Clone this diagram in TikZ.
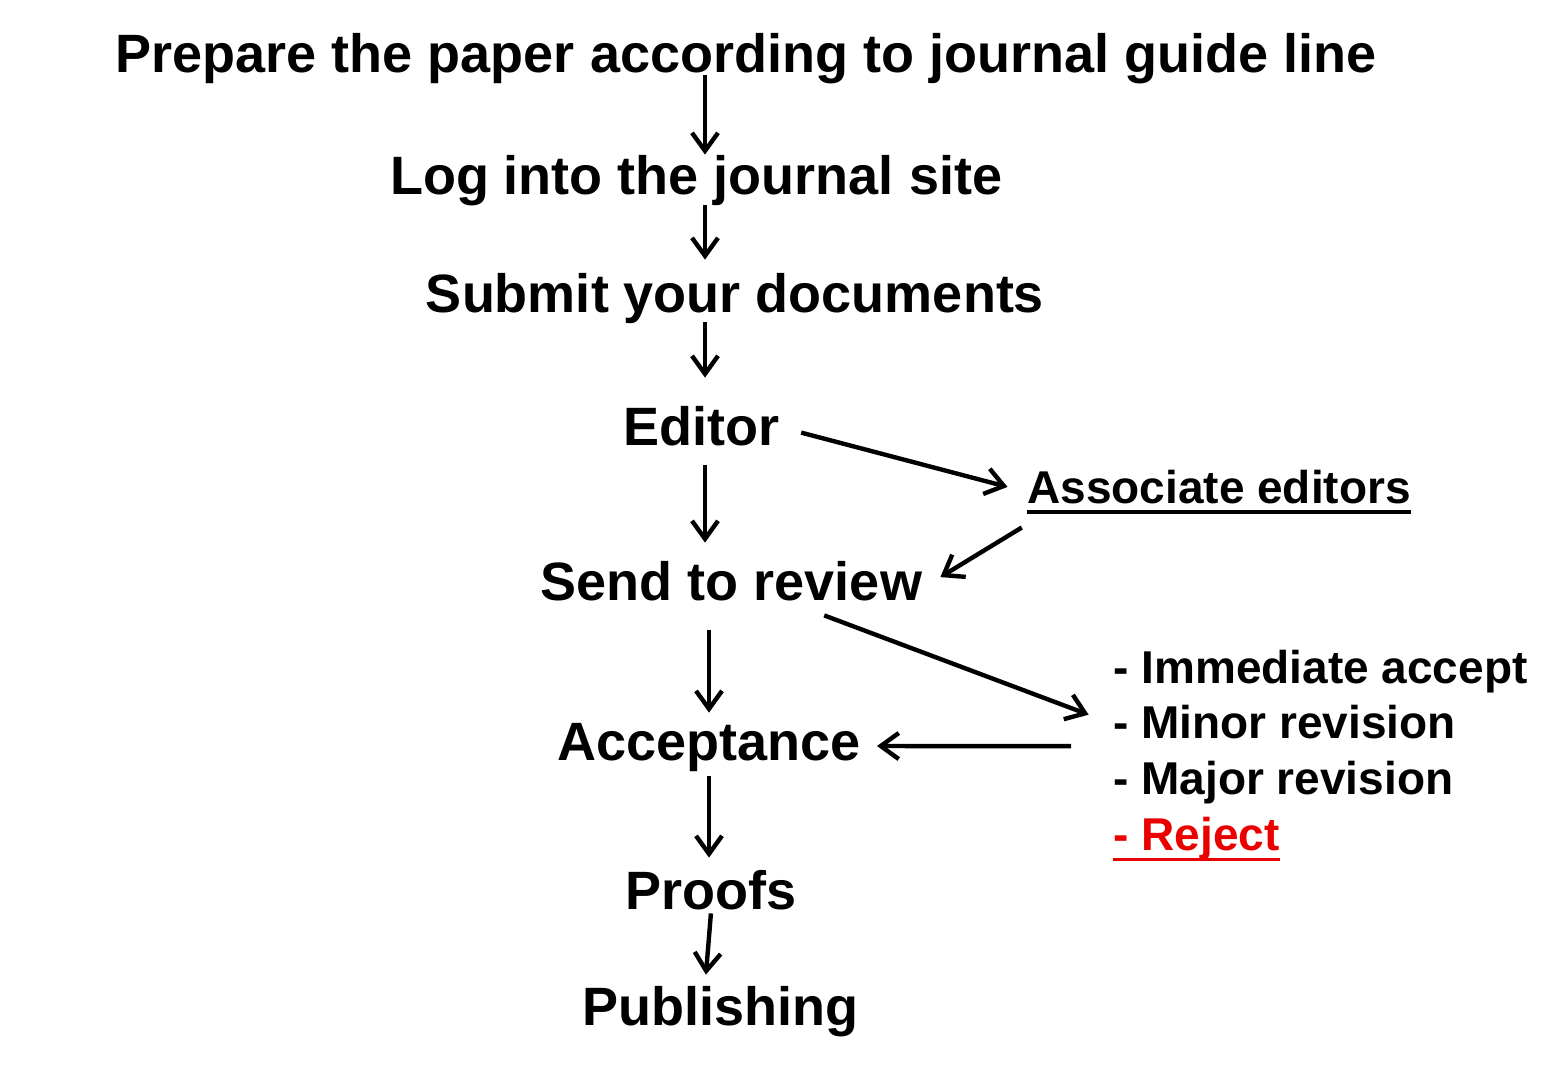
\documentclass[tikz,border=0pt]{standalone}
\usepackage{fontspec}
\setmainfont{Liberation Sans}
\usepackage{xcolor}
\usepackage{tikz}
\usetikzlibrary{arrows.meta, positioning}
\definecolor{rejectred}{RGB}{235,0,0}
% thick underline below a text
\newsavebox{\ulbox}
\newcommand{\ultext}[1]{\sbox{\ulbox}{#1}\rlap{\rule[-5.4pt]{\wd\ulbox}{1.8pt}}\usebox{\ulbox}}
\tikzset{
    % Main steps of the submission flow
    stepnode/.style={inner sep=0pt, anchor=base, font=\fontsize{27}{32}\selectfont\bfseries,
                     text height=19.5pt, text depth=1.5pt},
    % Side texts (editors, review outcomes)
    optionnode/.style={inner sep=0pt, font=\fontsize{23}{27.5}\selectfont\bfseries,
                       text height=16.5pt, text depth=1.5pt},
    % Arrow style
    flowarrow/.style={-{Straight Barb[length=9pt, width=13pt]}, line width=2.2pt},
}

\begin{document}
\begin{tikzpicture}[x=0.5pt, y=-0.5pt]
\useasboundingbox (0,0) rectangle (1556,1071);

% ============================================================
% Main flow
% ============================================================
\node[stepnode] (prep) at (746,72) {Prepare the paper according to journal guide line};
\node[stepnode] (log) at (696,194) {Log into the journal site};
\node[stepnode] (submit) at (735,312) {Submit your documents};
\node[stepnode] (editor) at (701.5,445) {Editor};
\node[stepnode] (send) at (731.5,600) {Send to review};
\node[stepnode] (accept) at (709,760) {Acceptance};
\node[stepnode] (proofs) at (711,909) {Proofs};
\node[stepnode] (pub) at (720.5,1025) {Publishing};

\coordinate (spine) at (705,0);

\draw[flowarrow] (prep.south -| spine) -- (log.north -| spine);
\draw[flowarrow, shorten <=4pt, shorten >=6.5pt] (log.south -| spine) -- (submit.north -| spine);
\draw[flowarrow, shorten <=3.5pt, shorten >=14pt] (submit.south -| spine) -- (editor.north -| spine);
\draw[flowarrow, shorten <=8.5pt, shorten >=9pt] (editor.south -| spine) -- (send.north -| spine);
\draw[flowarrow, shorten <=13.5pt, shorten >=4pt] (send.south -| accept) -- (accept.north);
\draw[flowarrow, shorten <=6.5pt, shorten >=6pt] (accept.south) -- (proofs.north -| accept);
\draw[flowarrow, shorten <=0.5pt, shorten >=5.5pt] (proofs.south) -- (pub.north -| spine);

% ============================================================
% Associate editors
% ============================================================
\node[optionnode, anchor=base] (assoc) at (1219,503) {\ultext{Associate editors}};

\draw[flowarrow, shorten <=11pt, shorten >=10pt] (editor.east) -- ([yshift=-2pt]assoc.west);
\draw[flowarrow, shorten <=3pt, shorten >=10.5pt] ([yshift=-9pt]assoc.south west) -- ([yshift=-3pt]send.east);

% ============================================================
% Review outcomes
% ============================================================
\node[optionnode, anchor=base west] (imm) at (1113,683) {- Immediate accept};
\node[optionnode, below=9.5pt of imm.south west, anchor=north west] (minor) {- Minor revision};
\node[optionnode, below=9.5pt of minor.south west, anchor=north west] (major) {- Major revision};
\node[optionnode, below=9.5pt of major.south west, anchor=north west, text=rejectred] (reject) {\ultext{- Reject}};

\draw[flowarrow, shorten >=13pt] ([yshift=-6pt]send.-13) -- (minor.west);
\draw[flowarrow, shorten <=21pt, shorten >=8pt] ([yshift=-2pt]minor.south west) -- ([yshift=-2pt]accept.east);

\end{tikzpicture}
\end{document}
